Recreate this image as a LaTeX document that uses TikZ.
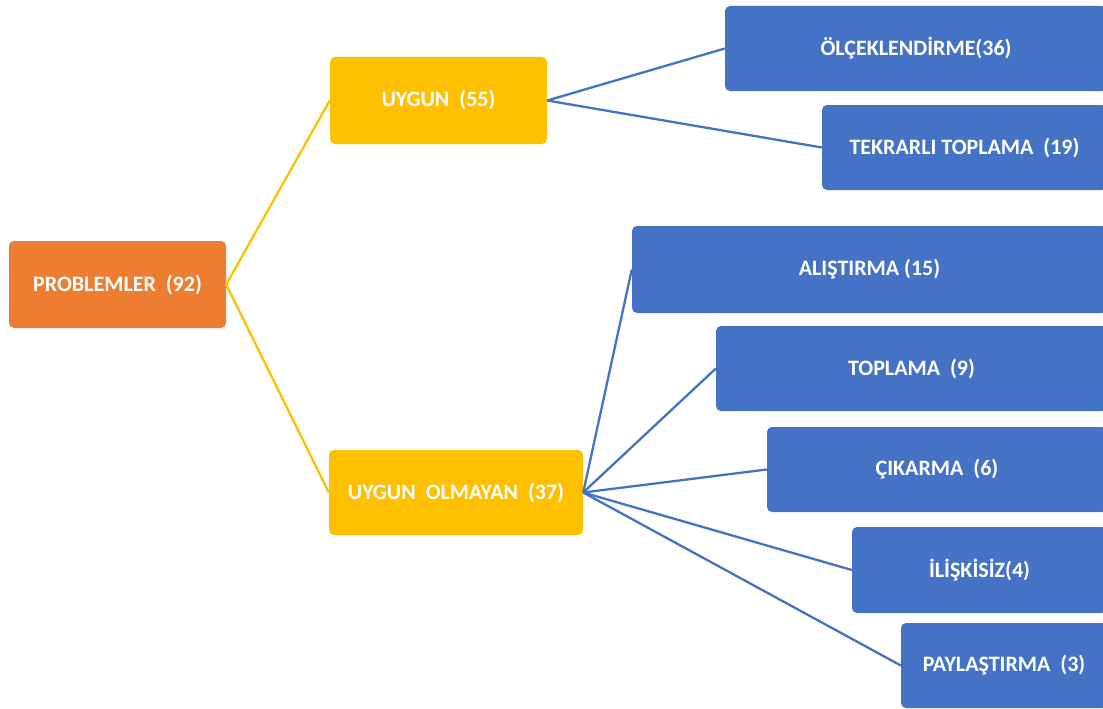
\documentclass[tikz,border=0pt]{standalone}
\usepackage{fontspec}
\setmainfont{Carlito}
\usetikzlibrary{positioning}

\definecolor{rootorange}{HTML}{ED7D31}
\definecolor{midyellow}{HTML}{FFC000}
\definecolor{leafblue}{HTML}{4472C4}

\begin{document}
\begin{tikzpicture}[
        x=1pt, y=-1pt,
        box/.style={rectangle, rounded corners=5pt, draw=none, inner sep=0pt,
            text=white, font=\fontsize{22}{26}\selectfont\bfseries},
        rootbox/.style={box, fill=rootorange},
        midbox/.style={box, fill=midyellow},
        leafbox/.style={box, fill=leafblue},
        yline/.style={draw=midyellow, line width=2.3pt},
        bline/.style={draw=leafblue, line width=2.3pt}
    ]
    \useasboundingbox (0,0) rectangle (1103,709);

    % ---- Root ----
    \node[rootbox, minimum width=217pt, minimum height=87pt] (prob) at (117.5, 284.5) {PROBLEMLER~~(92)};

    % ---- Middle level ----
    \node[midbox, minimum width=217pt, minimum height=87pt] (uygun) at (438.5, 100.5) {UYGUN~~(55)};
    \node[midbox, minimum width=254pt, minimum height=85pt] (olmayan) at (456, 492.5) {UYGUN~~OLMAYAN~~(37)};

    % ---- Leaves under UYGUN ----
    \node[leafbox, minimum width=382pt, minimum height=85pt] (olcek) at (916, 48.5) {ÖLÇEKLENDİRME(36)};
    \node[leafbox, minimum width=285pt, minimum height=85pt] (tekrar) at (964.5, 147.5) {TEKRARLI TOPLAMA~~(19)};

    % ---- Leaves under UYGUN OLMAYAN ----
    \node[leafbox, minimum width=475pt, minimum height=87pt] (alis) at (869.5, 269.5) {ALIŞTIRMA (15)};
    \node[leafbox, minimum width=391pt, minimum height=85pt] (topla) at (911.5, 368.5) {TOPLAMA~~(9)};
    \node[leafbox, minimum width=340pt, minimum height=85pt] (cikar) at (937, 469.5) {ÇIKARMA~~(6)};
    \node[leafbox, minimum width=255pt, minimum height=86pt] (iliski) at (979.5, 570) {İLİŞKİSİZ(4)};
    \node[leafbox, minimum width=206pt, minimum height=85pt] (payla) at (1004, 665.5) {PAYLAŞTIRMA~~(3)};

    % ---- Connectors ----
    \draw[yline] (prob.east) -- (uygun.west);
    \draw[yline] (prob.east) -- (olmayan.west);
    \draw[bline] (uygun.east) -- (olcek.west);
    \draw[bline] (uygun.east) -- (tekrar.west);
    \draw[bline] (olmayan.east) -- (alis.west);
    \draw[bline] (olmayan.east) -- (topla.west);
    \draw[bline] (olmayan.east) -- (cikar.west);
    \draw[bline] (olmayan.east) -- (iliski.west);
    \draw[bline] (olmayan.east) -- (payla.west);

\end{tikzpicture}
\end{document}
